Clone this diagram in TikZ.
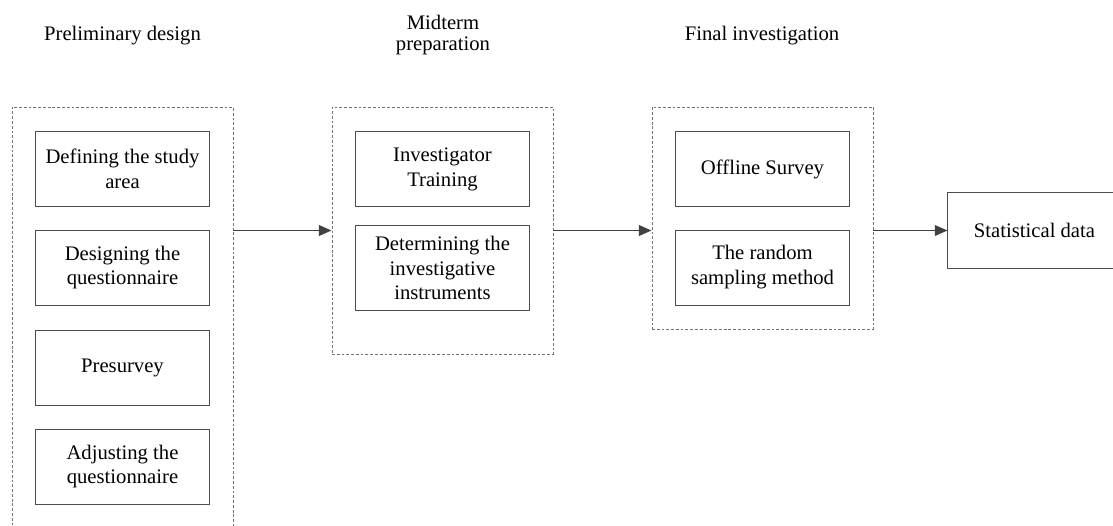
\documentclass[tikz,border=0pt]{standalone}
\usepackage{fontspec}
\setmainfont{Liberation Serif}
\usetikzlibrary{arrows.meta,positioning}

\tikzset{
  stepbox/.style={draw=black!70, line width=0.7pt, align=center,
    minimum width=4.325cm, minimum height=1.875cm, inner sep=0pt,
    font=\fontsize{14.7}{17.7}\selectfont},
  groupbox/.style={draw=black!55, line width=0.6pt, dash pattern=on 2pt off 1.4pt,
    minimum width=5.525cm, inner sep=0pt},
  phasetitle/.style={align=center, font=\fontsize{14.7}{15.6}\selectfont},
  flow/.style={draw=black!75, line width=1.3pt, -{Triangle[length=9pt,width=7.5pt]}}
}

\begin{document}
\begin{tikzpicture}[x=0.025cm, y=-0.025cm]
  \useasboundingbox (0,0) rectangle (1113,526);

  % 階段標題
  \node[phasetitle] (t1) at (122.5,36) {Preliminary design};
  \node[phasetitle] (t2) at (443,35) {Midterm\\preparation};
  \node[phasetitle] (t3) at (762,36) {Final investigation};

  % 虛線框
  \node[groupbox, minimum height=10.825cm] (prelim) at (122.5,323.5) {};
  \node[groupbox, minimum height=6.175cm] (mid) at (442.5,230.5) {};
  \node[groupbox, minimum height=5.55cm] (final) at (762.5,218) {};

  % 初步設計
  \node[stepbox] (area) at (122.5,169) {Defining the study\\area};
  \node[stepbox] (design) at (122.5,267.5) {Designing the\\questionnaire};
  \node[stepbox] (presurvey) at (122.5,367.5) {Presurvey};
  \node[stepbox] (adjust) at (122.5,466.5) {Adjusting the\\questionnaire};

  % 中期準備
  \node[stepbox] (training) at (442.5,169) {Investigator\\Training};
  \node[stepbox, minimum height=2.1cm] (instr) at (442.5,268) {Determining the\\investigative\\instruments};

  % 正式調查
  \node[stepbox] (offline) at (762.5,169) {Offline Survey};
  \node[stepbox] (sampling) at (762.5,267.5) {The random\\sampling method};

  % 結果
  \node[stepbox] (stat) at (1034.5,230.5) {Statistical data};

  % 流程箭頭
  \draw[flow] (prelim.east |- mid.west) -- (mid.west);
  \draw[flow] (mid.east) -- (final.west |- mid.east);
  \draw[flow] (final.east |- stat.west) -- (stat.west);
\end{tikzpicture}
\end{document}
